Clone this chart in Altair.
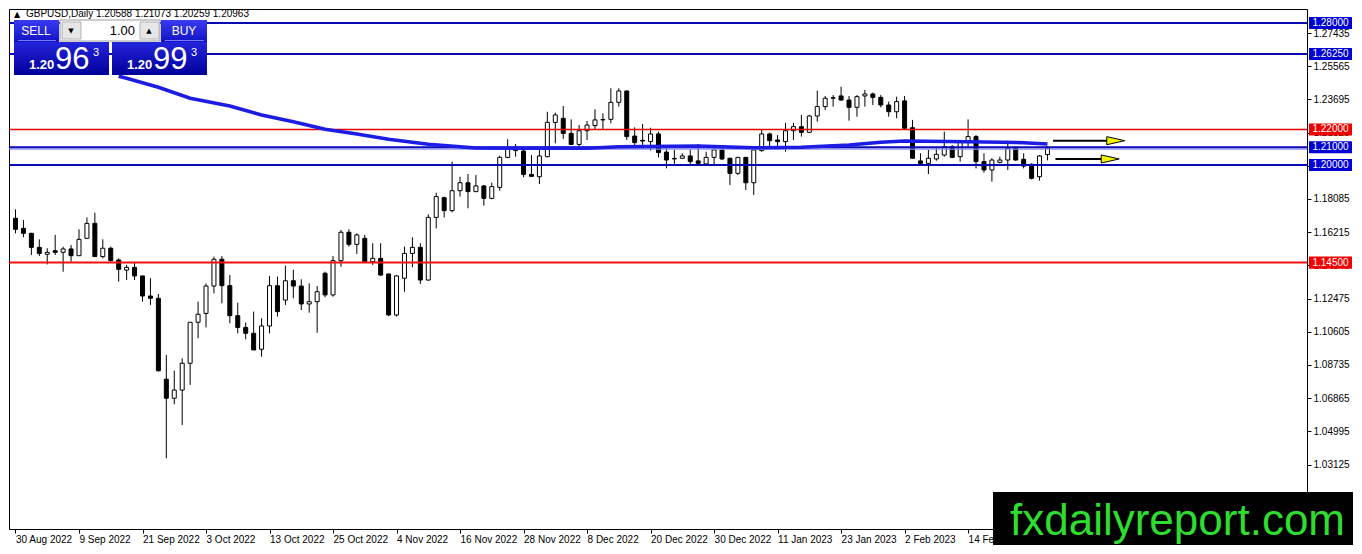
import json
import pandas as pd
import altair as alt

# ---------------- data ----------------
opens = [1.1700, 1.1643, 1.1615, 1.1536, 1.1497, 1.1517, 1.1508, 1.1527, 1.1489, 1.1587,
         1.1671, 1.1484, 1.1531, 1.1465, 1.1408, 1.1423, 1.1375, 1.1262, 1.1249, 1.0793,
         1.0686, 1.0732, 1.0883, 1.1114, 1.1164, 1.1318, 1.1469, 1.1320, 1.1151, 1.1085,
         1.1052, 1.0962, 1.1093, 1.1320, 1.1239, 1.1348, 1.1318, 1.1217, 1.1230, 1.1390,
         1.1268, 1.1461, 1.1621, 1.1553, 1.1587, 1.1455, 1.1474, 1.1386, 1.1155, 1.1362,
         1.1502, 1.1536, 1.1352, 1.1705, 1.1816, 1.1743, 1.1855, 1.1900, 1.1850, 1.1882,
         1.1812, 1.1874, 1.2043, 1.2081, 1.2079, 1.1947, 1.1934, 1.2047, 1.2240, 1.2263,
         1.2178, 1.2116, 1.2193, 1.2222, 1.2254, 1.2257, 1.2353, 1.2417, 1.2163, 1.2139,
         1.2132, 1.2175, 1.2073, 1.2034, 1.2038, 1.2051, 1.2023, 1.2006, 1.2043, 1.2085,
         1.2038, 1.1953, 1.2043, 1.1900, 1.2081, 1.2175, 1.2141, 1.2132, 1.2193, 1.2216,
         1.2184, 1.2276, 1.2329, 1.2376, 1.2389, 1.2366, 1.2325, 1.2389, 1.2400, 1.2381,
         1.2338, 1.2300, 1.2361, 1.2210, 1.2023, 1.2009, 1.2034, 1.2056, 1.2103, 1.2047,
         1.2128, 1.2160, 1.2019, 1.1972, 1.2015, 1.2028, 1.2094, 1.2032, 1.2004, 1.1934,
         1.20588]
highs = [1.1750, 1.1690, 1.1618, 1.1581, 1.1531, 1.1606, 1.1540, 1.1549, 1.1638, 1.1705,
         1.1731, 1.1581, 1.1540, 1.1474, 1.1437, 1.1455, 1.1376, 1.1362, 1.1273, 1.0930,
         1.0841, 1.0911, 1.1114, 1.1230, 1.1333, 1.1484, 1.1487, 1.1380, 1.1224, 1.1112,
         1.1174, 1.1136, 1.1375, 1.1371, 1.1433, 1.1409, 1.1356, 1.1333, 1.1318, 1.1399,
         1.1487, 1.1634, 1.1638, 1.1615, 1.1606, 1.1559, 1.1559, 1.1388, 1.1380, 1.1540,
         1.1593, 1.1559, 1.1722, 1.1844, 1.1822, 1.2019, 1.1934, 1.1949, 1.1944, 1.1887,
         1.1900, 1.2053, 1.2146, 1.2118, 1.2100, 1.2056, 1.2100, 1.2300, 1.2295, 1.2332,
         1.2257, 1.2225, 1.2248, 1.2314, 1.2291, 1.2432, 1.2432, 1.2420, 1.2212, 1.2231,
         1.2210, 1.2188, 1.2094, 1.2085, 1.2066, 1.2088, 1.2118, 1.2075, 1.2094, 1.2094,
         1.2040, 1.2045, 1.2045, 1.2088, 1.2201, 1.2182, 1.2169, 1.2238, 1.2238, 1.2282,
         1.2282, 1.2419, 1.2389, 1.2394, 1.2441, 1.2389, 1.2394, 1.2423, 1.2408, 1.2394,
         1.2357, 1.2385, 1.2389, 1.2254, 1.2066, 1.2085, 1.2094, 1.2188, 1.2113, 1.2141,
         1.2257, 1.2169, 1.2066, 1.2038, 1.2047, 1.2137, 1.2103, 1.2066, 1.2009, 1.2056,
         1.21073]
lows = [1.1615, 1.1593, 1.1493, 1.1487, 1.1440, 1.1493, 1.1399, 1.1455, 1.1487, 1.1585,
        1.1484, 1.1474, 1.1455, 1.1343, 1.1352, 1.1352, 1.1230, 1.1211, 1.0836, 1.0348,
        1.0652, 1.0535, 1.0761, 1.1024, 1.1085, 1.1277, 1.1221, 1.1108, 1.1052, 1.1018,
        1.0958, 1.0920, 1.1052, 1.1146, 1.1211, 1.1249, 1.1183, 1.1168, 1.1055, 1.1255,
        1.1258, 1.1427, 1.1540, 1.1499, 1.1452, 1.1437, 1.1375, 1.1149, 1.1146, 1.1286,
        1.1424, 1.1330, 1.1348, 1.1643, 1.1705, 1.1733, 1.1822, 1.1756, 1.1847, 1.1771,
        1.1807, 1.1855, 1.2038, 1.2047, 1.1931, 1.1934, 1.1893, 1.2043, 1.2122, 1.2147,
        1.2113, 1.2107, 1.2141, 1.2197, 1.2197, 1.2235, 1.2329, 1.2141, 1.2113, 1.2113,
        1.2081, 1.2043, 1.1981, 1.2006, 1.2034, 1.2000, 1.2006, 1.2000, 1.1994, 1.2028,
        1.1887, 1.1944, 1.1859, 1.1831, 1.2075, 1.2100, 1.2088, 1.2075, 1.2141, 1.2160,
        1.2182, 1.2244, 1.2310, 1.2329, 1.2362, 1.2250, 1.2272, 1.2329, 1.2338, 1.2325,
        1.2272, 1.2263, 1.2201, 1.2034, 1.2000, 1.1949, 1.2024, 1.2047, 1.2038, 1.2019,
        1.2103, 1.1981, 1.1957, 1.1906, 1.2009, 1.1972, 1.2024, 1.1981, 1.1919, 1.1912,
        1.20259]
closes = [1.1638, 1.1615, 1.1536, 1.1502, 1.1508, 1.1508, 1.1527, 1.1489, 1.1581, 1.1671,
          1.1484, 1.1531, 1.1461, 1.1412, 1.1423, 1.1375, 1.1262, 1.1249, 1.0841, 1.0686,
          1.0732, 1.0883, 1.1114, 1.1159, 1.1318, 1.1469, 1.1320, 1.1151, 1.1085, 1.1052,
          1.0958, 1.1093, 1.1320, 1.1174, 1.1348, 1.1318, 1.1217, 1.1230, 1.1286, 1.1268,
          1.1461, 1.1621, 1.1553, 1.1606, 1.1455, 1.1474, 1.1380, 1.1155, 1.1375, 1.1502,
          1.1536, 1.1352, 1.1705, 1.1822, 1.1743, 1.1855, 1.1900, 1.1850, 1.1882, 1.1812,
          1.1878, 1.2043, 1.2088, 1.2100, 1.1947, 1.1936, 1.2051, 1.2240, 1.2282, 1.2178,
          1.2116, 1.2193, 1.2225, 1.2254, 1.2256, 1.2353, 1.2417, 1.2160, 1.2126, 1.2135,
          1.2175, 1.2070, 1.2028, 1.2037, 1.2051, 1.2019, 1.2009, 1.2043, 1.2085, 1.2034,
          1.1953, 1.2043, 1.1900, 1.2085, 1.2175, 1.2137, 1.2132, 1.2193, 1.2216, 1.2184,
          1.2276, 1.2329, 1.2376, 1.2379, 1.2366, 1.2325, 1.2385, 1.2400, 1.2381, 1.2338,
          1.2300, 1.2357, 1.2207, 1.2038, 1.2009, 1.2038, 1.2060, 1.2103, 1.2043, 1.2132,
          1.2160, 1.2019, 1.1972, 1.2028, 1.2028, 1.2094, 1.2028, 1.1994, 1.1925, 1.2051,
          1.20963]

date_labels = ["30 Aug 2022", "9 Sep 2022", "21 Sep 2022", "3 Oct 2022", "13 Oct 2022",
               "25 Oct 2022", "4 Nov 2022", "16 Nov 2022", "28 Nov 2022", "8 Dec 2022",
               "20 Dec 2022", "30 Dec 2022", "11 Jan 2023", "23 Jan 2023", "2 Feb 2023",
               "14 Feb 2023"]
label_every = 8

ma_bars = [13, 14, 18, 22, 27, 31, 35, 39, 43, 47, 52, 56, 58, 66, 72, 76, 86, 93, 99,
           105, 109, 112, 120, 127, 130]
ma_values = [1.2500, 1.2489, 1.2438, 1.2376, 1.2332, 1.2282, 1.2244, 1.2201, 1.2175, 1.2145,
             1.2117, 1.2103, 1.2096, 1.2094, 1.2094, 1.2103, 1.2107, 1.2097, 1.2100, 1.2113,
             1.2128, 1.2135, 1.2131, 1.2126, 1.2118]

blue_levels = [1.28, 1.2625, 1.21, 1.20]
red_levels = [1.145]
thin_red_levels = [1.22]
price_ticks = [1.03125, 1.04995, 1.06865, 1.08735, 1.10605, 1.12475, 1.14345, 1.16215,
               1.18085, 1.19955, 1.21825, 1.23695, 1.25565, 1.27435]

arrow_price = [1.2137, 1.2034]
arrow_start = [130.7, 131.0]
arrow_end = [137.6, 136.8]
arrow_head = [138.6, 137.9]

title_text = "GBPUSD,Daily  1.20588 1.21073 1.20259 1.20963"
sell_small, sell_big, sell_frac = "1.20", "96", "3"
buy_small, buy_big, buy_frac = "1.20", "99", "3"
lot_text = "1.00"
logo_text = "fxdailyreport.com"

# ---------------- layout ----------------
W, H = 1298, 520
XDOM = [-0.1875, 162.0625]
YDOM = [0.994929, 1.287887]
FONT = "Liberation Sans"

candles = pd.DataFrame({"bar": list(range(len(opens))), "open": opens, "high": highs,
                        "low": lows, "close": closes})
ma_df = pd.DataFrame({"bar": ma_bars, "ma": ma_values})
arrows = pd.DataFrame({"price": arrow_price, "x0": arrow_start, "x1": arrow_end, "head": arrow_head})
lvl_rows = ([{"price": p, "box": "blue"} for p in blue_levels] +
            [{"price": p, "box": "red"} for p in red_levels + thin_red_levels])
levels_df = pd.DataFrame(lvl_rows)
dummy = pd.DataFrame({"k": [0]})

x_axis = alt.Axis(values=[i * label_every for i in range(len(date_labels))],
                  labelExpr=f"{json.dumps(date_labels)}[round(datum.value/{label_every})]",
                  orient="bottom", title=None, tickSize=4, labelAlign="left",
                  labelBaseline="top", labelPadding=1, labelOverlap=False,
                  labelFlush=False, labelBound=False, domain=False, grid=False)
y_axis = alt.Axis(values=price_ticks, format=".5f", orient="right", title=None,
                  tickSize=4, labelPadding=2, labelOverlap=False, labelFlush=False,
                  domain=False, grid=False)
xs = alt.Scale(domain=XDOM, nice=False, zero=False)
ys = alt.Scale(domain=YDOM, nice=False, zero=False)


def X(f):
    return alt.X(f"{f}:Q", scale=xs, axis=x_axis)


def Y(f):
    return alt.Y(f"{f}:Q", scale=ys, axis=y_axis)


layers = []
# candles
layers.append(alt.Chart(candles).mark_rule(color="black", strokeWidth=1).encode(
    x=X("bar"), y=Y("low"), y2="high"))
layers.append(alt.Chart(candles).mark_bar(size=4, stroke="black", strokeWidth=1).encode(
    x=X("bar"), y=Y("open"), y2="close",
    fill=alt.condition("datum.close >= datum.open", alt.value("white"), alt.value("black"))))

# horizontal levels
layers.append(alt.Chart(pd.DataFrame({"price": [1.21]})).mark_rule(
    color="#8c8cff", strokeWidth=1.3, yOffset=1.8).encode(y=Y("price")))
layers.append(alt.Chart(pd.DataFrame({"price": blue_levels})).mark_rule(
    color="#0a0ab4", strokeWidth=2).encode(y=Y("price")))
layers.append(alt.Chart(pd.DataFrame({"price": thin_red_levels})).mark_rule(
    color="#e80000", strokeWidth=1.6).encode(y=Y("price")))
layers.append(alt.Chart(pd.DataFrame({"price": red_levels})).mark_rule(
    color="#f01010", strokeWidth=2).encode(y=Y("price")))

# moving average
layers.append(alt.Chart(ma_df).mark_line(color="#1c1ce4", strokeWidth=3.5).encode(
    x=X("bar"), y=Y("ma")))

# arrows
layers.append(alt.Chart(arrows).mark_rule(color="black", strokeWidth=2).encode(
    x=X("x0"), x2="x1", y=Y("price")))
layers.append(alt.Chart(arrows).mark_point(
    shape="M-1,-0.45L1,0L-1,0.45Z", size=324, filled=True, fill="#f4f400",
    stroke="black", strokeWidth=1, opacity=1).encode(x=X("head"), y=Y("price")))

# trade panel
grad_head = {"gradient": "linear", "x1": 0, "x2": 0, "y1": 0, "y2": 1,
             "stops": [{"offset": 0, "color": "#3a3af2"}, {"offset": 1, "color": "#1212c4"}]}
grad_big = {"gradient": "linear", "x1": 0, "x2": 0, "y1": 0, "y2": 1,
            "stops": [{"offset": 0, "color": "#2424dc"}, {"offset": 1, "color": "#00009a"}]}


def rect(x1, x2, y1, y2, **kw):
    return alt.Chart(dummy).mark_rect(**kw).encode(
        x=alt.value(x1), x2=alt.value(x2), y=alt.value(y1), y2=alt.value(y2))


def text(t, px, py, size, color="white", align="left", baseline="alphabetic",
         weight="normal", font=FONT):
    return alt.Chart(dummy).mark_text(text=t, fontSize=size, color=color, align=align,
                                      baseline=baseline, fontWeight=weight, font=font).encode(
        x=alt.value(px), y=alt.value(py))


layers += [
    rect(5, 50, 11, 33, fill=grad_head),
    rect(152, 198, 11, 33, fill=grad_head),
    rect(51, 151, 11, 32, fill="white", stroke="#9a9a9a", strokeWidth=1),
    rect(53, 72, 13, 30, fill="#e6e6e6", stroke="#b4b4b4", strokeWidth=1),
    rect(131, 150, 13, 30, fill="#e6e6e6", stroke="#b4b4b4", strokeWidth=1),
    rect(5, 100, 33, 66, fill=grad_big),
    rect(103, 198, 33, 66, fill=grad_big),
    rect(9, 47, 31, 32, fill="#7b7bff"),
    rect(156, 195, 31, 32, fill="#7b7bff"),
    text("SELL", 27, 22, 12, align="center", baseline="middle"),
    text("BUY", 175, 22, 12, align="center", baseline="middle"),
    text(lot_text, 126, 22, 13, color="black", align="right", baseline="middle"),
    text("▼", 62, 22, 7, color="black", align="center", baseline="middle", font="DejaVu Sans"),
    text("▲", 140, 22, 7, color="black", align="center", baseline="middle", font="DejaVu Sans"),
    text(sell_small, 20, 60, 13, weight="bold"),
    text(sell_big, 46, 60, 31),
    text(sell_frac, 84, 38, 11, baseline="top"),
    text(buy_small, 118, 60, 13, weight="bold"),
    text(buy_big, 144, 60, 31),
    text(buy_frac, 182, 38, 11, baseline="top"),
    text("▲", 5, 8, 8, color="black", font="DejaVu Sans"),
    text(title_text, 17, 8, 10, color="black"),
]

# price level labels on the axis
layers.append(alt.Chart(levels_df).mark_point(
    shape="M-1,-0.28L1,-0.28L1,0.28L-1,0.28Z", size=1849, filled=True, opacity=1,
    strokeWidth=0).encode(
    x=alt.value(W + 23.5), y=Y("price"),
    color=alt.Color("box:N", scale=alt.Scale(domain=["blue", "red"], range=["#0000d4", "#f00000"]),
                    legend=None)))
layers.append(alt.Chart(levels_df).mark_text(color="white", fontSize=10, font=FONT,
                                             align="center", baseline="middle").encode(
    x=alt.value(W + 23.5), y=Y("price"), text=alt.Text("price:Q", format=".5f")))

# logo
layers.append(rect(984, W + 47, 483, H + 17, fill="black"))
layers.append(text(logo_text, 1001, 526, 44, color="#2ede2e"))

chart = alt.layer(*layers).properties(
    width=W, height=H,
    autosize=alt.AutoSizeParams(type="none"),
    padding={"left": 1, "top": 1, "right": 46, "bottom": 16},
    background="white",
).configure_view(stroke="black", strokeWidth=1).configure_axis(
    labelFont=FONT, labelFontSize=10, labelColor="black", tickColor="black", tickWidth=1)

chart.save("out.html", embed_options={"renderer": "svg", "actions": False})
